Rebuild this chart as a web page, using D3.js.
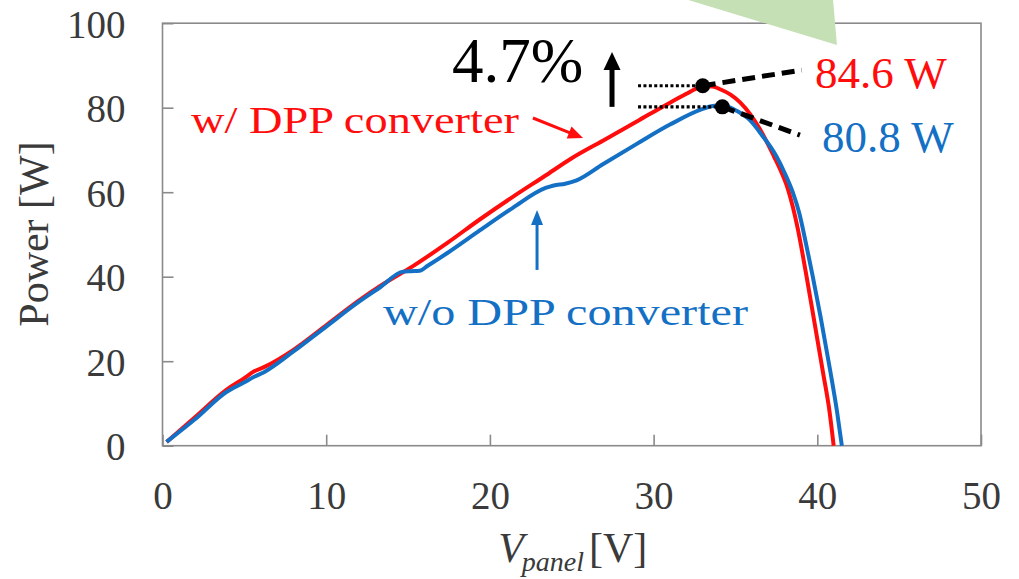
<!DOCTYPE html>
<html><head><meta charset="utf-8">
<script src="https://cdn.jsdelivr.net/npm/d3@7"></script>
<style>html,body{margin:0;padding:0;background:#fff;} svg{display:block;}</style>
</head><body><svg id="c" width="1019" height="579"></svg>
<script>
// ---- data ----
const xTicks = [0, 10, 20, 30, 40, 50];
const yTicks = [0, 20, 40, 60, 80, 100];
const seriesNames = ["w/ DPP converter", "w/o DPP converter"];
// P-V curve with DPP converter
const vWith = [0.25, 2.0, 3.9, 5.0, 5.6, 6.2, 8.0, 10.0, 12.05, 13.3, 15.3, 17.4, 19.4, 21.4, 23.5, 24.9, 26.9, 29.0, 31.0, 32.0, 32.6, 33.1, 33.6, 34.1, 34.7, 35.3, 36.5, 37.35, 37.8, 38.2, 38.5, 38.8, 39.3, 39.8, 40.35, 40.75, 41.0];
const pWith = [0.9, 6.8, 13.2, 16.0, 17.6, 18.6, 22.7, 28.5, 34.5, 37.8, 42.5, 48.0, 53.6, 58.9, 64.2, 67.8, 72.2, 76.8, 81.2, 83.3, 84.5, 85.1, 85.0, 84.3, 83.1, 81.2, 74.9, 68.5, 64.8, 60.8, 56.6, 51.5, 41.0, 29.8, 17.3, 8.0, 0.0];
// P-V curve without DPP converter
const vWithout = [0.25, 2.0, 3.9, 5.0, 5.6, 6.2, 8.0, 10.0, 12.05, 13.3, 14.7, 15.2, 15.7, 16.2, 17.4, 19.4, 21.4, 23.4, 23.9, 24.6, 25.3, 26.9, 29.0, 31.0, 33.0, 33.6, 34.2, 35.1, 35.9, 36.6, 37.5, 38.0, 38.5, 38.9, 39.3, 39.7, 40.2, 40.8, 41.2, 41.5];
const pWithout = [0.9, 6.3, 12.7, 15.0, 16.3, 17.4, 22.3, 28.2, 34.2, 37.5, 41.2, 41.3, 41.4, 42.6, 45.6, 51.0, 56.3, 61.0, 61.6, 62.0, 62.8, 66.6, 71.5, 76.0, 79.7, 80.4, 80.6, 79.2, 77.0, 73.6, 68.5, 64.6, 60.0, 55.0, 48.0, 40.5, 30.5, 17.5, 8.2, 0.0];
// maximum power points
const mppV = [33.0, 34.2];
const mppP = [85.2, 80.2];
const mppLabels = ["84.6 W", "80.8 W"];
const gainLabel = "4.7%";

// ---- layout ----
const svg = d3.select("#c");
const x = d3.scaleLinear([0, 50], [162.5, 981]);
const y = d3.scaleLinear([0, 100], [445.7, 23.2]);
const RED = "#ff0d0d", BLUE = "#1470c4", AXIS = "#8a8a8a", TXT = "#3a3a3a";
const FONT = "'Liberation Serif', 'Times New Roman', serif";

// frame
svg.append("rect").attr("x", x(0)).attr("y", y(100))
  .attr("width", x(50) - x(0)).attr("height", y(0) - y(100))
  .attr("fill", "none").attr("stroke", AXIS).attr("stroke-width", 1.6);

// axes
const gx = svg.append("g").attr("transform", `translate(0,${y(0)})`)
  .call(d3.axisBottom(x).tickValues(xTicks).tickSize(-11).tickPadding(36).tickFormat(d3.format("d")));
const gy = svg.append("g").attr("transform", `translate(${x(0)},0)`)
  .call(d3.axisLeft(y).tickValues(yTicks).tickSize(-11).tickPadding(37).tickFormat(d3.format("d")));
[gx, gy].forEach(g => {
  g.select(".domain").remove();
  g.selectAll(".tick line").attr("stroke", AXIS).attr("stroke-width", 1.6);
  g.selectAll(".tick text").attr("fill", TXT).style("font-family", FONT).style("font-size", "39px");
});
gy.selectAll(".tick text").attr("dy", "0.36em");

// axis titles
svg.append("text").attr("transform", `translate(48,234) rotate(-90)`)
  .attr("text-anchor", "middle").attr("fill", TXT)
  .style("font-family", FONT).style("font-size", "42px").text("Power [W]");
const xt = svg.append("text").attr("x", (x(0) + x(50)) / 2 + 1).attr("y", 562)
  .attr("text-anchor", "middle").attr("fill", TXT)
  .style("font-family", FONT).style("font-size", "42px");
xt.append("tspan").style("font-style", "italic").text("V");
xt.append("tspan").style("font-style", "italic").style("font-size", "28px").attr("dy", 9).attr("dx", -2).text("panel");
xt.append("tspan").attr("dy", -9).attr("dx", 5).text("[V]");

// curves
const line = d3.line().x(d => x(d[0])).y(d => y(d[1])).curve(d3.curveMonotoneX);
svg.append("path").datum(d3.zip(vWith, pWith)).attr("d", line)
  .attr("fill", "none").attr("stroke", RED).attr("stroke-width", 4).attr("stroke-linejoin", "round");
svg.append("path").datum(d3.zip(vWithout, pWithout)).attr("d", line)
  .attr("fill", "none").attr("stroke", BLUE).attr("stroke-width", 4).attr("stroke-linejoin", "round");

// arrow helper (data coordinates)
function arrow(v1, p1, v2, p2, color, w, hl, hw) {
  const x1 = x(v1), y1 = y(p1), x2 = x(v2), y2 = y(p2);
  const dx = x2 - x1, dy = y2 - y1, L = Math.hypot(dx, dy), ux = dx / L, uy = dy / L;
  const bx = x2 - ux * hl, by = y2 - uy * hl;
  svg.append("line").attr("x1", x1).attr("y1", y1).attr("x2", bx + ux).attr("y2", by + uy)
    .attr("stroke", color).attr("stroke-width", w);
  svg.append("polygon").attr("fill", color).attr("points",
    [[x2, y2], [bx - uy * hw / 2, by + ux * hw / 2], [bx + uy * hw / 2, by - ux * hw / 2]].map(p => p.join(",")).join(" "));
}

// series labels
svg.append("text").attr("x", x(1.74)).attr("y", y(74.0)).attr("fill", RED)
  .attr("textLength", 328).attr("lengthAdjust", "spacingAndGlyphs")
  .style("font-family", FONT).style("font-size", "37px").text(seriesNames[0]);
arrow(22.63, 77.56, 25.69, 72.83, RED, 3, 15, 13);
svg.append("text").attr("x", x(13.47)).attr("y", y(28.6)).attr("fill", BLUE)
  .attr("textLength", 365).attr("lengthAdjust", "spacingAndGlyphs")
  .style("font-family", FONT).style("font-size", "38px").text(seriesNames[1]);
arrow(22.88, 41.6, 22.88, 55.8, BLUE, 3, 15, 12);

// MPP annotations
const dotStartV = 29.05;
const dashEnd = [[39.05, 88.9], [38.94, 73.5]];
mppV.forEach((v, i) => {
  svg.append("line").attr("x1", x(dotStartV)).attr("x2", x(v)).attr("y1", y(mppP[i])).attr("y2", y(mppP[i]))
    .attr("stroke", "#000").attr("stroke-width", 3.2).attr("stroke-dasharray", "3,2.4");
  svg.append("line").attr("x1", x(v)).attr("y1", y(mppP[i])).attr("x2", x(dashEnd[i][0])).attr("y2", y(dashEnd[i][1]))
    .attr("stroke", "#000").attr("stroke-width", 5).attr("stroke-dasharray", "13,7");
  svg.append("circle").attr("cx", x(v)).attr("cy", y(mppP[i])).attr("r", 7.5).attr("fill", "#000");
});
svg.append("text").attr("x", x(39.86)).attr("y", y(84.7)).attr("fill", RED)
  .style("font-family", FONT).style("font-size", "45px").text(mppLabels[0]);
svg.append("text").attr("x", x(40.29)).attr("y", y(69.4)).attr("fill", BLUE)
  .style("font-family", FONT).style("font-size", "45px").text(mppLabels[1]);

// gain
svg.append("text").attr("x", x(17.68)).attr("y", y(86.1)).attr("fill", "#000")
  .style("font-family", FONT).style("font-size", "63px").text(gainLabel);
arrow(27.46, 80.2, 27.46, 93.2, "#000", 5, 18, 17);

// green callout wedge
const wedge = [[32.03, 105.6], [41.2, 94.85], [40.96, 105.6]];
svg.append("polygon").attr("fill", "#c5e0b4")
  .attr("points", wedge.map(d => [x(d[0]), y(d[1])].join(",")).join(" "));
</script></body></html>
